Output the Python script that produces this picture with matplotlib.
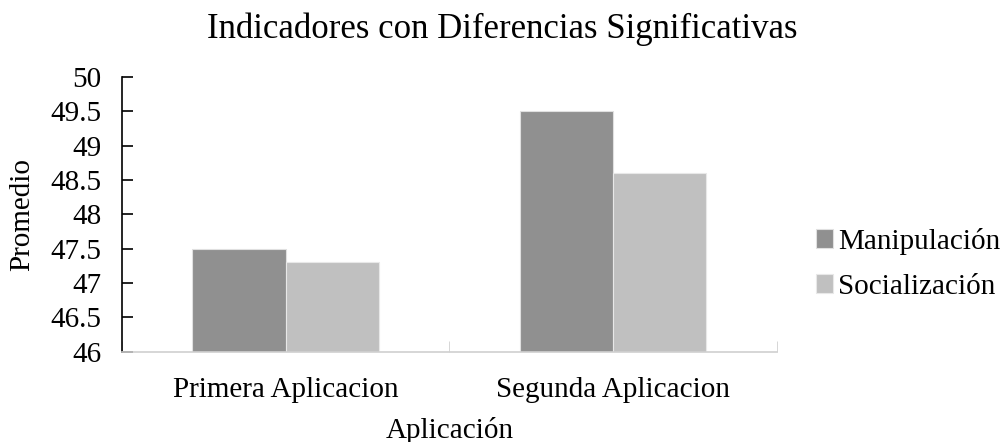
import numpy as np
import matplotlib.pyplot as plt

plt.rcParams['font.family'] = ['Liberation Serif', 'DejaVu Serif']

categorias = ['Primera Aplicacion', 'Segunda Aplicacion']
manipulacion = [47.5, 49.5]
socializacion = [47.3, 48.6]
yticks = [46, 46.5, 47, 47.5, 48, 48.5, 49, 49.5, 50]
yticklabels = ['46', '46.5', '47', '47.5', '48', '48.5', '49', '49.5', '50']

fig = plt.figure(figsize=(10.04, 4.42), dpi=100)
ax = fig.add_axes([0.1215, 0.204, 0.652, 0.622])

x = np.arange(len(categorias))
w = 0.285
ax.bar(x - w / 2, manipulacion, w, color='#909090', edgecolor='#e0e0e0',
       linewidth=0.8, label='Manipulación')
ax.bar(x + w / 2, socializacion, w, color='#c0c0c0', edgecolor='#e8e8e8',
       linewidth=0.8, label='Socialización')

ax.set_xlim(-0.5, 1.5)
ax.set_ylim(46, 50)
ax.set_yticks(yticks)
ax.set_yticklabels(yticklabels)
ax.set_xticks(x)
ax.set_xticklabels(categorias, fontsize=21)
ax.tick_params(axis='x', length=0, pad=18)
ax.set_xticks([-0.5, 0.5, 1.5], minor=True)
ax.tick_params(axis='x', which='minor', direction='in', length=8, color='#d0d0d0')
ax.tick_params(axis='y', direction='in', length=8, width=1.2, labelsize=21, pad=15)

for s in ['top', 'right']:
    ax.spines[s].set_visible(False)
ax.spines['left'].set_linewidth(1.2)
ax.spines['bottom'].set_color('#d0d0d0')
ax.spines['bottom'].set_linewidth(1.2)

ax.set_ylabel('Promedio', fontsize=21, labelpad=11)
ax.set_xlabel('Aplicación', fontsize=21, labelpad=10)
fig.suptitle('Indicadores con Diferencias Significativas', fontsize=25, y=0.972, x=0.5)

ax.legend(loc='center left', bbox_to_anchor=(1.02, 0.32), frameon=False, fontsize=21,
          handlelength=0.6, handleheight=0.6, handletextpad=0.15, labelspacing=0.65)

fig.savefig('out.png', dpi=100)
